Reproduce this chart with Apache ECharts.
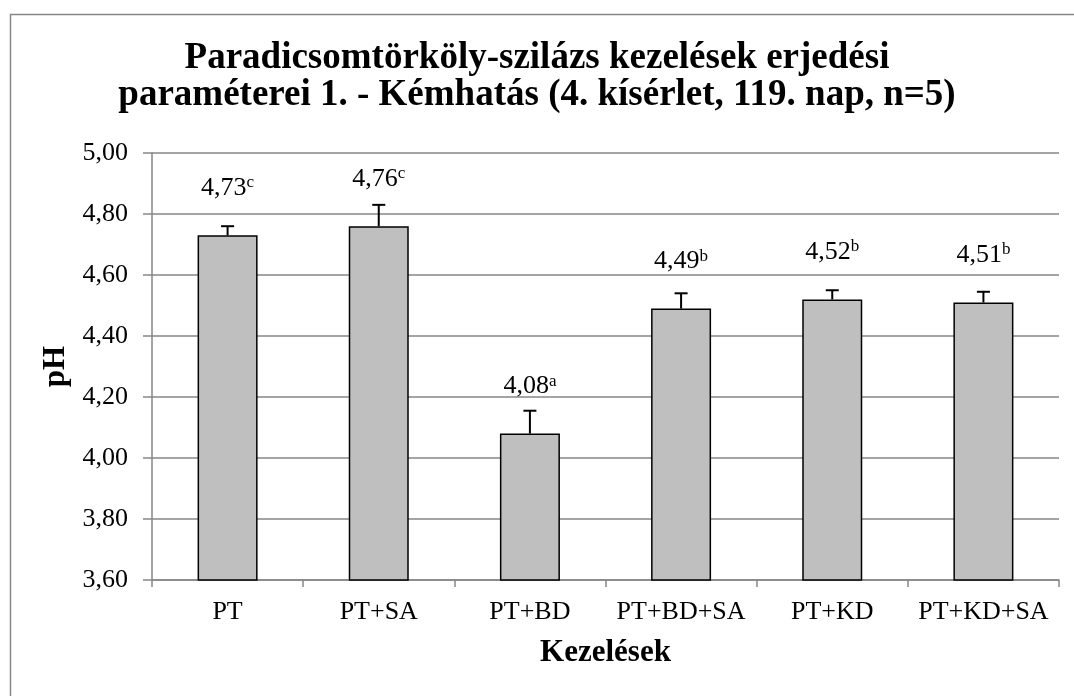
<!DOCTYPE html>
<html>
<head>
<meta charset="utf-8">
<script src="https://cdn.jsdelivr.net/npm/echarts@6/dist/echarts.min.js"></script>
<style>
  html, body { margin: 0; padding: 0; background: #fff; }
  #main { width: 1074px; height: 696px; }
</style>
</head>
<body>
<div id="main"></div>
<script>
// adatok
var categories = ['PT', 'PT+SA', 'PT+BD', 'PT+BD+SA', 'PT+KD', 'PT+KD+SA'];
var phValues = [4.73, 4.76, 4.08, 4.49, 4.52, 4.51];
var errValues = [0.03, 0.07, 0.075, 0.05, 0.03, 0.035];
var letters = ['c', 'c', 'a', 'b', 'b', 'b'];

var font = 'Liberation Serif, Times New Roman, serif';

function fmt(v) { return v.toFixed(2).replace('.', ','); }

var myChart = echarts.init(document.getElementById('main'));
var option = {
    backgroundColor: '#fff',
    animation: false,
    title: {
        text: 'Paradicsomtörköly-szilázs kezelések erjedési\nparaméterei 1. - Kémhatás (4. kísérlet, 119. nap, n=5)',
        left: 'center',
        top: 35,
        textStyle: {
            fontFamily: font,
            fontSize: 37,
            fontWeight: 'bold',
            color: '#000',
            lineHeight: 37
        }
    },
    graphic: [{   // keret (bal és felső él)
        type: 'polyline',
        shape: { points: [[10.5, 696], [10.5, 14.5], [1074, 14.5]] },
        style: { fill: null, stroke: '#868686', lineWidth: 1.5 },
        silent: true
    }],
    grid: {
        left: 152,
        right: 15,
        top: 153,
        bottom: 116
    },
    xAxis: {
        type: 'category',
        data: categories,
        name: 'Kezelések',
        nameLocation: 'middle',
        nameGap: 57,
        nameTextStyle: { fontFamily: font, fontSize: 31, fontWeight: 'bold', color: '#000' },
        axisLine: { lineStyle: { color: '#868686', width: 1.5 } },
        axisTick: { show: true, length: 7, lineStyle: { color: '#868686', width: 1.5 } },
        axisLabel: { fontFamily: font, fontSize: 26, color: '#000', margin: 19, interval: 0, hideOverlap: false }
    },
    yAxis: {
        type: 'value',
        min: 3.6,
        max: 5.0,
        interval: 0.2,
        name: 'pH',
        nameLocation: 'middle',
        nameGap: 71,
        nameTextStyle: { fontFamily: font, fontSize: 31, fontWeight: 'bold', color: '#000' },
        axisLine: { show: true, lineStyle: { color: '#868686', width: 1.5 } },
        axisTick: { show: true, length: 9, lineStyle: { color: '#868686', width: 1.5 } },
        splitLine: { lineStyle: { color: '#868686', width: 1.5 } },
        axisLabel: {
            fontFamily: font, fontSize: 26, color: '#000', margin: 24,
            formatter: function (v) { return fmt(v); }
        }
    },
    series: [
        {
            type: 'bar',
            data: phValues,
            barWidth: 60,
            itemStyle: { color: '#bfbfbf', borderColor: '#000', borderWidth: 1.5 },
            label: {
                show: true,
                position: 'top',
                distance: 34,
                formatter: function (p) {
                    return '{v|' + fmt(p.value) + '}{s|' + letters[p.dataIndex] + '}';
                },
                rich: {
                    v: { fontFamily: font, fontSize: 26, color: '#000' },
                    s: { fontFamily: font, fontSize: 17, color: '#000', padding: [0, 0, 10, 0] }
                }
            },
            z: 2
        },
        {
            type: 'custom',   // hibasávok (csak felfelé)
            data: phValues.map(function (v, i) { return [i, v, v + errValues[i]]; }),
            renderItem: function (params, api) {
                var x = api.value(0);
                var p0 = api.coord([x, api.value(1)]);
                var p1 = api.coord([x, api.value(2)]);
                var half = 6.5;
                return {
                    type: 'group',
                    children: [
                        { type: 'line', shape: { x1: p0[0], y1: p0[1], x2: p1[0], y2: p1[1] },
                          style: { stroke: '#000', lineWidth: 2 } },
                        { type: 'line', shape: { x1: p1[0] - half, y1: p1[1], x2: p1[0] + half, y2: p1[1] },
                          style: { stroke: '#000', lineWidth: 2 } }
                    ]
                };
            },
            z: 3
        }
    ]
};
myChart.setOption(option);
</script>
</body>
</html>
